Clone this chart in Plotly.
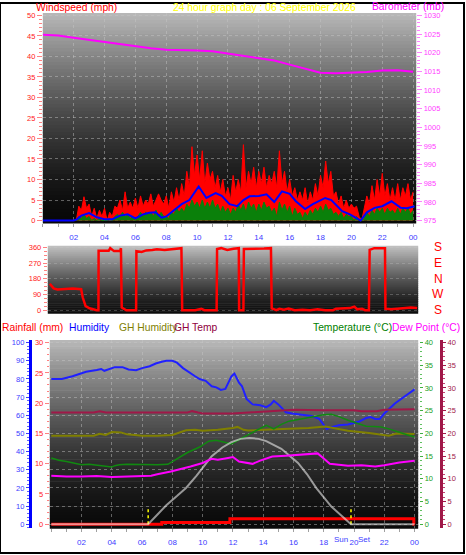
import plotly.graph_objects as go

W, H = 466, 555
FONT = "Liberation Sans, Arial, sans-serif"

# ---------------- data ----------------
hour_ticks = [2, 4, 6, 8, 10, 12, 14, 16, 18, 20, 22, 24]
hour_labels = ["02", "04", "06", "08", "10", "12", "14", "16", "18", "20", "22", "00"]

# wind speed, 10-minute samples (mph)
wind_hours = [i / 6 for i in range(145)]
gust = [0, 0, 0, 0, 0, 0,
        0, 0, 0, 0, 0, 0,
        0, 0, 3.5, 2.5, 5.8, 3.0,
        4.0, 1.0, 3.0, 0.5, 2.5, 1.0,
        3.0, 0.0, 2.0, 1.0, 3.5, 3.0,
        5.0, 2.5, 7.0, 3.0, 4.5, 3.0,
        5.5, 3.0, 6.0, 3.5, 5.0, 4.0,
        6.5, 3.5, 5.0, 6.5, 5.0, 4.0,
        6.0, 3.0, 7.0, 4.5, 8.0, 5.0,
        9.0, 6.0, 12.0, 8.0, 18.0, 11.0,
        16.0, 10.0, 17.0, 9.0, 14.0, 10.0,
        12.0, 8.0, 11.0, 7.0, 10.0, 6.0,
        8.0, 5.0, 11.0, 7.0, 10.0, 7.0,
        18.5, 8.0, 12.0, 9.0, 13.0, 8.0,
        12.0, 9.0, 13.0, 8.0, 11.0, 9.0,
        12.0, 8.0, 17.0, 9.0, 12.0, 7.0,
        10.0, 6.0, 8.0, 5.0, 7.0, 5.0,
        8.0, 4.0, 7.0, 5.0, 9.0, 6.0,
        11.0, 8.0, 14.5, 9.0, 12.0, 6.0,
        7.0, 4.0, 6.0, 3.0, 5.0, 3.0,
        4.0, 3.0, 3.5, 1.0, 0.0, 3.0,
        6.0, 4.0, 8.5, 5.0, 10.0, 6.0,
        11.5, 6.0, 9.0, 5.0, 8.0, 5.0,
        9.0, 5.0, 8.0, 6.0, 9.0, 5.0,
        7.0]
speed = [0, 0, 0, 0, 0, 0,
         0, 0, 0, 0, 0, 0,
         0, 0, 1.0, 0.5, 1.5, 0.5,
         1.0, 0, 0.5, 0, 0.5, 0,
         0, 0, 0.5, 0, 1.0, 1.5,
         1.0, 2.0, 1.0, 1.5, 0.5, 1.0,
         0, 1.0, 2.0, 1.0, 2.0, 1.5,
         2.0, 1.0, 2.5, 1.0, 2.0, 1.0,
         1.0, 0.5, 2.0, 1.5, 3.0, 2.0,
         3.0, 2.0, 4.0, 3.0, 5.0, 3.5,
         4.5, 3.0, 5.0, 3.0, 4.5, 3.0,
         5.0, 3.0, 4.0, 2.0, 3.5, 2.0,
         3.0, 1.5, 3.0, 2.0, 4.0, 2.5,
         4.0, 2.0, 4.5, 3.0, 4.0, 2.0,
         4.0, 2.5, 4.5, 3.0, 3.5, 2.0,
         3.0, 1.0, 4.5, 2.5, 4.0, 2.0,
         3.5, 1.0, 3.0, 1.5, 2.0, 0.5,
         2.0, 1.0, 2.5, 1.5, 3.0, 2.0,
         3.5, 2.0, 4.0, 2.5, 3.0, 1.5,
         2.0, 1.0, 2.0, 0.5, 1.5, 1.0,
         1.0, 0, 1.0, 0, 0, 0.5,
         2.0, 1.0, 2.5, 1.5, 3.0, 2.0,
         3.0, 1.5, 3.0, 2.0, 2.5, 1.5,
         3.0, 1.5, 3.0, 2.0, 3.0, 1.5,
         2.5]
avg_hours = [0, 1, 2, 2.2, 2.5, 3.0, 3.5, 4.0, 4.5, 5.0, 5.5, 6.0, 6.5, 6.9, 7.3, 7.7, 8.0, 8.5,
             9.0, 9.5, 10.1, 10.6, 11.2, 11.6, 12.1, 12.6, 13.0, 13.4, 14.0, 14.5, 15.0,
             15.5, 16.0, 16.4, 17.0, 17.5, 18.0, 18.3, 18.7, 19.4, 19.9, 20.3, 20.6, 21.0,
             21.5, 22.0, 22.6, 23.2, 23.6, 24.1]
avg_speed = [0, 0, 0, 0.3, 1.2, 1.8, 0.8, 0.3, 0.3, 1.2, 1.5, 0.5, 1.5, 1.9, 2.0, 0.7, 1.0, 2.5,
             4.0, 5.0, 8.3, 5.5, 6.7, 6.0, 4.0, 3.5, 5.0, 5.9, 6.0, 6.4, 4.5,
             7.1, 6.5, 4.7, 2.8, 4.0, 5.0, 5.5, 5.0, 2.3, 1.5, 0.7, 0.0, 2.0,
             3.1, 3.5, 4.7, 3.1, 3.0, 3.5]

baro_hours = list(range(25))
baro = [1024.8, 1024.6, 1024.0, 1023.4, 1022.9, 1022.3, 1021.7, 1021.2, 1020.8, 1020.8,
        1020.6, 1020.4, 1019.8, 1019.3, 1018.7, 1017.9, 1016.8, 1015.7, 1014.6, 1014.5,
        1014.6, 1014.8, 1015.2, 1015.3, 1014.9]

dir_hours = [0, 0.25, 0.5, 1.0, 1.5, 2.05, 2.15, 2.34, 2.6, 3.06, 3.18, 3.19, 3.85, 3.95, 4.2,
             4.6, 4.65, 4.7, 5.0, 5.64, 5.66, 6.0, 6.3, 6.7, 7.0, 7.5, 8.0, 8.3, 8.6, 8.65,
             9.5, 9.9, 10.1, 10.9, 10.93, 11.2, 11.6, 12.0, 12.35, 12.37, 12.65, 12.68, 13.0,
             13.5, 14.0, 14.45, 14.5, 14.8, 15.0, 15.3, 15.6, 16.0, 16.5, 17.0, 17.5, 18.0,
             18.5, 18.7, 19.2, 19.6, 19.9, 20.1, 20.4, 20.6, 20.85, 20.9, 21.2, 21.5, 21.9,
             21.93, 22.3, 22.7, 23.2, 23.6, 24.0]
dir_deg = [151, 125, 119, 122, 124, 120, 74, 23, 11, 0, 0, 340, 340, 355, 338,
           338, 355, 15, 0, 0, 338, 333, 342, 345, 348, 345, 348, 352, 355, 0,
           0, 8, 0, 0, 350, 355, 345, 352, 355, 0, 0, 350, 350,
           352, 353, 355, 10, 0, 8, 3, 10, 0, 3, 0, 5, 0,
           0, 8, 10, 12, 20, 5, 8, 0, 0, 345, 355, 355, 355,
           8, 5, 8, 10, 15, 12]
dir_vals = [360, 270, 180, 90, 0]
dir_text = ["S", "E", "N", "W", "S"]

hum_hours = [0, 0.7, 1.4, 2.0, 2.3, 3.0, 3.3, 3.5, 3.8, 4.2, 4.7, 5.1, 5.6, 6.0, 6.5, 6.9, 7.3,
             7.6, 8.0, 8.3, 8.7, 9.1, 9.5, 9.8, 10.2, 10.6, 10.9, 11.2, 11.5, 11.9, 12.1, 12.4,
             12.6, 12.9, 13.3, 13.8, 14.2, 14.5, 14.7, 15.0, 15.5, 15.9, 16.3, 16.8, 17.2,
             17.7, 18.2, 18.5, 19.0, 19.6, 20.3, 20.8, 21.1, 21.4, 21.7, 22.0, 22.3, 22.7,
             23.2, 23.6, 24.0]
humidity = [80, 80, 81.5, 83, 84, 85, 85.5, 84.5, 85.5, 86.5, 86.5, 85.2, 84.8, 86, 87, 88.5, 89.5,
            90, 90, 89, 86, 83.6, 81.5, 80, 79, 76, 75.4, 74, 74.5, 81.4, 83, 78,
            76, 69, 66, 65.5, 64.5, 66, 68, 66, 61.7, 61, 60.6, 60, 59.6,
            58, 52.4, 53.5, 54.5, 55, 56.4, 58.5, 59, 58, 58, 61, 63.5, 66.5,
            69.5, 72, 74.3]

gh_hum_hours = [0, 2.0, 2.8, 3.2, 3.6, 4.0, 4.6, 5.0, 6.0, 7.0, 8.0, 8.9, 9.5, 10.0, 11.0, 12.0,
                12.3, 12.7, 13.0, 14.0, 15.0, 16.0, 17.0, 18.1, 19.0, 19.6, 21.0, 22.3, 22.8, 24.0]
gh_humidity = [48.8, 48.8, 48.8, 49.8, 49.2, 50.8, 50.6, 49.5, 48.8, 48.8, 49.2, 51.8, 52.0, 51.5,
               52.0, 53.0, 53.6, 52.0, 51.6, 52.0, 52.2, 52.6, 53.0, 53.8, 52.5, 51.5, 50.2,
               48.8, 50.0, 49.7]

gh_temp_hours = [0, 2.8, 3.2, 3.6, 9.0, 9.3, 9.7, 10.0, 12.0, 13.0, 14.8, 16.0, 18.0, 20.0, 20.5,
                 21.5, 22.0, 23.0, 24.0]
gh_temp = [24.6, 24.6, 24.9, 24.6, 24.6, 24.9, 24.6, 24.4, 24.4, 24.6, 25.1, 25.2, 25.1, 25.1,
           24.9, 24.9, 25.2, 25.3, 25.3]

temp_hours = [0, 0.5, 1.0, 1.5, 2.0, 2.5, 3.0, 3.5, 4.0, 4.2, 4.5, 5.0, 6.0, 7.0, 7.7, 8.0, 8.5,
              9.0, 9.8, 10.4, 10.9, 11.5, 11.9, 12.5, 13.1, 13.7, 14.2, 14.7, 15.2, 15.7, 16.3,
              17.0, 17.5, 18.0, 18.5, 19.0, 19.6, 20.2, 20.8, 21.3, 21.8, 22.3, 22.9, 23.5, 24.0]
temperature = [14.6, 14.1, 13.8, 13.4, 13.1, 13.2, 13.0, 12.9, 12.6, 12.9, 13.1, 13.2, 13.1, 13.1,
               13.2, 13.8, 14.8, 15.8, 17.0, 18.3, 18.5, 18.0, 17.7, 18.8, 19.9, 21.0, 21.8,
               21.0, 22.0, 22.7, 23.1, 23.6, 23.8, 24.1, 24.2, 23.7, 22.9, 22.3, 21.6, 21.5,
               21.4, 21.0, 20.3, 19.7, 19.2]

dew_hours = [0, 1, 2, 3, 4, 5, 6, 6.6, 7.0, 7.9, 9.2, 10.0, 10.6, 11.0, 11.5, 12.0, 12.4, 13.3,
             13.8, 14.6, 15.5, 16.3, 17.0, 17.6, 18.0, 18.4, 19.0, 19.6, 20.5, 21.4, 22.0,
             22.5, 23.0, 24.0]
dew_point = [10.7, 10.5, 10.5, 10.6, 10.4, 10.5, 10.6, 10.7, 11.0, 11.6, 12.7, 13.5, 14.4, 14.2,
             14.5, 14.8, 13.8, 13.3, 14.0, 14.9, 15.1, 15.3, 15.5, 15.6, 14.5, 13.3, 13.1,
             12.9, 13.0, 12.7, 13.0, 13.3, 13.6, 14.0]

sun_hours = [0, 6.4, 7.0, 7.6, 8.3, 8.9, 9.6, 10.6, 11.3, 11.9, 12.5, 13.1, 13.7, 14.2, 15.2,
             16.3, 16.9, 17.5, 18.5, 19.2, 19.8, 24.0]
sun_level = [0, 0, 2.1, 4.2, 6.2, 8.0, 10.7, 15.0, 16.9, 18.1, 18.8, 19.0, 18.8, 18.3, 16.6,
             13.5, 11.0, 8.0, 3.9, 1.8, 0, 0]

rain_hours = [0, 7.3, 11.8, 23.95, 24.0]
rain = [0, 0.3, 0.9, 0, 0]

sunrise, sunset = 6.4, 19.8
marker_top = 2.7

titles = [("Windspeed (mph)", "#ff0000", 34, 4.5),
          ("24 hour graph day : 06 September 2026", "#ffff00", 172, 4.5),
          ("Barometer (mb)", "#ff00ff", 372, 3.5),
          ("Rainfall (mm)", "#ff0000", 0, 327),
          ("Humidity", "#0000ff", 67, 327),
          ("GH Humidity", "#808000", 118, 327),
          ("GH Temp", "#900040", 173, 327),
          ("Temperature (\u00b0C)", "#008000", 312, 327),
          ("Dew Point (\u00b0C)", "#ff00ff", 392, 327)]


# ---------------- helpers ----------------
def px_x(p):
    return p / W


def px_y(p):
    return 1 - p / H


GRID = "rgba(200,200,200,0.45)"
TICKBLUE = "#3c3cff"

fig = go.Figure()

# top panel
fig.add_trace(go.Scatter(x=wind_hours, y=gust, mode="lines", fill="tozeroy",
                         line=dict(color="#ff0000", width=1), fillcolor="#ff0000",
                         xaxis="x", yaxis="y"))
fig.add_trace(go.Scatter(x=wind_hours, y=speed, mode="lines", fill="tozeroy",
                         line=dict(color="#0a800a", width=1), fillcolor="#0a800a",
                         xaxis="x", yaxis="y"))
fig.add_trace(go.Scatter(x=avg_hours, y=avg_speed, mode="lines",
                         line=dict(color="#0000ff", width=2), xaxis="x", yaxis="y"))
fig.add_trace(go.Scatter(x=baro_hours, y=baro, mode="lines",
                         line=dict(color="#ff00ff", width=2), xaxis="x", yaxis="y2"))

# middle panel
fig.add_trace(go.Scatter(x=dir_hours, y=dir_deg, mode="lines",
                         line=dict(color="#ff0000", width=2.5), xaxis="x2", yaxis="y3"))

# bottom panel
fig.add_trace(go.Scatter(x=rain_hours, y=rain, mode="lines", line_shape="hv",
                         line=dict(color="#ff0000", width=3), xaxis="x3", yaxis="y4"))
fig.add_trace(go.Scatter(x=[sunrise, sunrise, None, sunset, sunset],
                         y=[0, marker_top, None, 0, marker_top], mode="lines",
                         line=dict(color="#ffff00", width=1.5, dash="dot"),
                         xaxis="x3", yaxis="y4"))
fig.add_trace(go.Scatter(x=hum_hours, y=humidity, mode="lines",
                         line=dict(color="#2020ff", width=2), xaxis="x3", yaxis="y5"))
fig.add_trace(go.Scatter(x=gh_hum_hours, y=gh_humidity, mode="lines",
                         line=dict(color="#808000", width=2), xaxis="x3", yaxis="y5"))
fig.add_trace(go.Scatter(x=temp_hours, y=temperature, mode="lines",
                         line=dict(color="#108a10", width=1.5), xaxis="x3", yaxis="y6"))
fig.add_trace(go.Scatter(x=sun_hours, y=sun_level, mode="lines",
                         line=dict(color="rgba(235,235,235,0.6)", width=2),
                         xaxis="x3", yaxis="y6"))
fig.add_trace(go.Scatter(x=gh_temp_hours, y=gh_temp, mode="lines",
                         line=dict(color="#a01848", width=2), xaxis="x3", yaxis="y7"))
fig.add_trace(go.Scatter(x=dew_hours, y=dew_point, mode="lines",
                         line=dict(color="#ff00ff", width=2), xaxis="x3", yaxis="y7"))

# ---------------- background gradients ----------------
shapes = []


def gradient(x0, x1, y0, y1, top, bottom, power, n=60):
    for i in range(n):
        t = (i + 0.5) / n
        g = int(bottom + (top - bottom) * (1 - t) ** power)
        ya = y0 + (y1 - y0) * i / n
        yb = y0 + (y1 - y0) * (i + 1) / n
        shapes.append(dict(type="rect", xref="paper", yref="paper", layer="below",
                           x0=px_x(x0), x1=px_x(x1), y0=px_y(ya), y1=px_y(yb + 0.6),
                           line=dict(width=0), fillcolor=f"rgb({g},{g},{g})"))


gradient(43, 418, 10, 222, 186, 8, 1.5)
gradient(48, 420, 245, 313, 195, 12, 1.3, n=34)
gradient(50, 420, 340, 530, 186, 10, 1.5)
shapes.append(dict(type="rect", xref="paper", yref="paper", x0=0, x1=1, y0=0, y1=1,
                   line=dict(color="#000000", width=2), layer="above"))

# ---------------- annotations ----------------
annotations = []
for text, color, xl, yc in titles:
    annotations.append(dict(text=text, xref="paper", yref="paper", x=px_x(xl), y=px_y(yc),
                            xanchor="left", yanchor="middle", showarrow=False,
                            font=dict(family=FONT, size=10.3, color=color)))
for v, t in zip(dir_vals, dir_text):
    annotations.append(dict(text=t, xref="paper", yref="y3", x=px_x(440), y=v,
                            xanchor="center", yanchor="middle", showarrow=False,
                            font=dict(family=FONT, size=12, color="#ff0000")))
annotations.append(dict(text="Sun", xref="x3", yref="paper", x=sunset, y=px_y(541),
                        xanchor="right", yanchor="middle", xshift=-1, showarrow=False,
                        font=dict(family=FONT, size=8, color=TICKBLUE)))
annotations.append(dict(text="Set", xref="x3", yref="paper", x=sunset, y=px_y(541),
                        xanchor="left", yanchor="middle", xshift=5, showarrow=False,
                        font=dict(family=FONT, size=8, color=TICKBLUE)))

tick_font = lambda c, s=7.5: dict(family=FONT, size=s, color=c)

xcommon = dict(tickvals=hour_ticks, ticktext=hour_labels, tickfont=tick_font(TICKBLUE, 8),
               ticks="outside", ticklen=3, tickcolor="#a0a0a0",
               minor=dict(dtick=1, ticks="outside", ticklen=3, tickcolor="#a0a0a0"),
               showgrid=True, gridcolor=GRID, griddash="dot", zeroline=False,
               showline=False, fixedrange=True, ticklabelstandoff=3)

fig.update_layout(
    width=W, height=H, autosize=False,
    margin=dict(l=0, r=0, t=0, b=0),
    paper_bgcolor="#ffffff", plot_bgcolor="rgba(0,0,0,0)",
    showlegend=False,
    shapes=shapes, annotations=annotations,
    xaxis=dict(domain=[px_x(43), px_x(418)], range=[0, 24.2], anchor="y", **xcommon),
    yaxis=dict(domain=[px_y(222), px_y(10)], range=[-0.6, 50.6], dtick=5, tick0=0,
               tickfont=tick_font("#ff2020"), ticks="outside", ticklen=5, tickcolor="#ff8080",
               minor=dict(dtick=1, ticks="outside", ticklen=3, tickcolor="#ff8080"),
               showgrid=True, gridcolor=GRID, griddash="dot", zeroline=False,
               anchor="x", fixedrange=True),
    yaxis2=dict(overlaying="y", side="right", anchor="x", range=[974.34, 1030.66], dtick=5,
                tick0=975, tickfont=tick_font("#ff40ff"), ticks="outside", ticklen=5,
                tickcolor="#ff80ff",
                minor=dict(dtick=1, ticks="outside", ticklen=3, tickcolor="#ff80ff"),
                showgrid=False, zeroline=False, fixedrange=True),
    xaxis2=dict(domain=[px_x(48), px_x(420)], range=[-0.13, 24.07], anchor="y3",
                showticklabels=False, ticks="", showgrid=False, zeroline=False,
                fixedrange=True),
    yaxis3=dict(domain=[px_y(313), px_y(245)], range=[-17, 368.5], anchor="x2",
                tickvals=dir_vals, tickfont=tick_font("#ff2020"), ticks="outside", ticklen=4,
                tickcolor="#ff8080",
                minor=dict(dtick=22.5, ticks="outside", ticklen=3, tickcolor="#ff8080"),
                showgrid=True, gridcolor="rgba(200,200,200,0.3)", griddash="dot",
                zeroline=False, fixedrange=True),
    xaxis3=dict(domain=[px_x(50), px_x(420)], range=[-0.1, 24.24], anchor="y4", **xcommon),
    yaxis4=dict(domain=[px_y(530), px_y(340)], range=[-0.655, 30.44], anchor="x3", dtick=5,
                tick0=0, tickfont=tick_font("#ff2020"), ticks="outside", ticklen=4,
                tickcolor="#ff8080",
                minor=dict(dtick=1, ticks="outside", ticklen=2, tickcolor="#ff8080"),
                showgrid=False, zeroline=False, fixedrange=True),
    yaxis5=dict(overlaying="y4", anchor="free", position=px_x(30), side="left",
                range=[-2.18, 101.5], dtick=10, tick0=0, tickfont=tick_font("#3c3cff"),
                showline=True, linecolor="#0000ff", linewidth=3, ticks="outside",
                ticklen=3, tickcolor="#3c3cff",
                minor=dict(dtick=2, ticks="outside", ticklen=2, tickcolor="#6060ff"),
                showgrid=True, gridcolor=GRID, griddash="dot", zeroline=False,
                fixedrange=True),
    yaxis6=dict(overlaying="y4", anchor="free", position=px_x(421), side="right",
                range=[-0.873, 40.58], dtick=5, tick0=0, tickfont=tick_font("#20a020"),
                ticks="outside", ticklen=3, tickcolor="#40b040",
                minor=dict(dtick=1, ticks="outside", ticklen=2, tickcolor="#60c060"),
                showgrid=False, zeroline=False, fixedrange=True),
    yaxis7=dict(overlaying="y4", anchor="free", position=px_x(443), side="right",
                range=[-0.873, 40.58], dtick=5, tick0=0, tickfont=tick_font("#a01848"),
                showline=True, linecolor="#a01848", linewidth=3, ticks="outside",
                ticklen=3, tickcolor="#a01848",
                minor=dict(dtick=1, ticks="outside", ticklen=2, tickcolor="#c04070"),
                showgrid=False, zeroline=False, fixedrange=True),
)

fig.write_html("out.html", config={"displayModeBar": False},
               post_script="document.body.style.margin='0';")
